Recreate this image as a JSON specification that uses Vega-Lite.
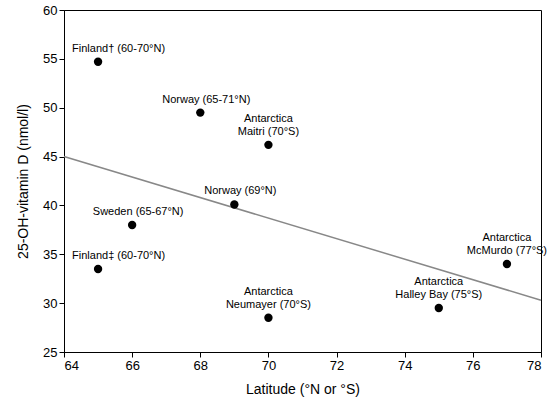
{
  "$schema": "https://vega.github.io/schema/vega-lite/v6.json",
  "width": 477,
  "height": 342,
  "autosize": {"type": "none"},
  "padding": {"left": 64, "top": 10, "right": 7, "bottom": 58},
  "background": "white",
  "config": {
    "view": {"stroke": "black", "strokeWidth": 1},
    "axis": {"grid": false, "domainColor": "black", "tickColor": "black", "labelColor": "black", "titleColor": "black", "labelFont": "Liberation Sans", "titleFont": "Liberation Sans", "labelFontSize": 13, "titleFontSize": 14, "titleFontWeight": "normal", "tickSize": 5}
  },
  "datasets": {
    "pts": [
      {"lat": 65, "vitd": 54.7, "label": "Finland† (60-70°N)", "kind": "edge"},
      {"lat": 68, "vitd": 49.5, "label": "Norway (65-71°N)", "kind": "one"},
      {"lat": 70, "vitd": 46.2, "label": "Antarctica\nMaitri (70°S)", "kind": "two"},
      {"lat": 69, "vitd": 40.1, "label": "Norway (69°N)", "kind": "one"},
      {"lat": 66, "vitd": 38.0, "label": "Sweden (65-67°N)", "kind": "one"},
      {"lat": 65, "vitd": 33.5, "label": "Finland‡ (60-70°N)", "kind": "edge"},
      {"lat": 70, "vitd": 28.5, "label": "Antarctica\nNeumayer (70°S)", "kind": "two"},
      {"lat": 75, "vitd": 29.5, "label": "Antarctica\nHalley Bay (75°S)", "kind": "two"},
      {"lat": 77, "vitd": 34.0, "label": "Antarctica\nMcMurdo (77°S)", "kind": "two"}
    ],
    "fit": [
      {"lat": 64, "vitd": 45.0},
      {"lat": 78, "vitd": 30.3}
    ]
  },
  "layer": [
    {
      "data": {"name": "fit"},
      "mark": {"type": "line", "color": "#888888", "strokeWidth": 1.5},
      "encoding": {
        "x": {"field": "lat", "type": "quantitative", "scale": {"domain": [64, 78], "nice": false}, "axis": {"values": [64,66,68,70,72,74,76,78], "title": "Latitude (°N or °S)", "titlePadding": 10}},
        "y": {"field": "vitd", "type": "quantitative", "scale": {"domain": [25, 60], "nice": false}, "axis": {"values": [25,30,35,40,45,50,55,60], "title": "25-OH-vitamin D (nmol/l)", "titlePadding": 12}}
      }
    },
    {
      "data": {"name": "pts"},
      "mark": {"type": "point", "filled": true, "color": "black", "opacity": 1, "size": 70},
      "encoding": {
        "x": {"field": "lat", "type": "quantitative"},
        "y": {"field": "vitd", "type": "quantitative"}
      }
    },
    {
      "data": {"name": "pts"},
      "transform": [{"filter": "datum.kind == 'one'"}],
      "mark": {"type": "text", "baseline": "bottom", "dy": -8, "dx": 6, "fontSize": 11, "font": "Liberation Sans", "color": "black"},
      "encoding": {
        "x": {"field": "lat", "type": "quantitative"},
        "y": {"field": "vitd", "type": "quantitative"},
        "text": {"field": "label"}
      }
    },
    {
      "data": {"name": "pts"},
      "transform": [{"filter": "datum.kind == 'edge'"}],
      "mark": {"type": "text", "baseline": "bottom", "align": "left", "dy": -8, "dx": -26, "fontSize": 11, "font": "Liberation Sans", "color": "black"},
      "encoding": {
        "x": {"field": "lat", "type": "quantitative"},
        "y": {"field": "vitd", "type": "quantitative"},
        "text": {"field": "label"}
      }
    },
    {
      "data": {"name": "pts"},
      "transform": [{"filter": "datum.kind == 'two'"}],
      "mark": {"type": "text", "baseline": "bottom", "dy": -21, "fontSize": 11, "font": "Liberation Sans", "color": "black", "lineBreak": "\n", "lineHeight": 13},
      "encoding": {
        "x": {"field": "lat", "type": "quantitative"},
        "y": {"field": "vitd", "type": "quantitative"},
        "text": {"field": "label"}
      }
    }
  ]
}
